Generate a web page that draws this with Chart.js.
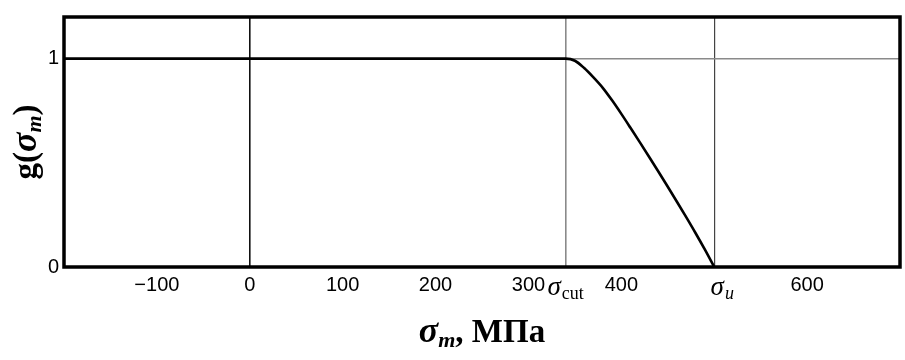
<!DOCTYPE html>
<html>
<head>
<meta charset="utf-8">
<script src="https://cdn.jsdelivr.net/npm/chart.js@4/dist/chart.umd.min.js"></script>
<style>
  html, body { margin: 0; padding: 0; background: #fff; }
  canvas { display: block; }
</style>
</head>
<body>
<canvas id="chart" width="905" height="360"></canvas>
<script>
// Stress axis (MPa) and the reduction factor g(σm)
const SIGMA = [-200, 340, 350, 360, 370, 380, 390, 400, 410, 420, 430, 440, 450, 460, 470, 480, 490, 500];
const G = [1, 1, 0.99, 0.955, 0.91, 0.86, 0.8, 0.735, 0.667, 0.598, 0.528, 0.457, 0.385, 0.312, 0.238, 0.162, 0.083, 0];

const X_TICKS = [-100, 0, 100, 200, 300, 400, 600];
const Y_TICKS = [0, 1];
const SIGMA_CUT = 340;
const SIGMA_U = 500;

const SERIF = '"Liberation Serif", "Times New Roman", serif';
const SANS = '"Liberation Sans", Arial, sans-serif';

// draws a list of text pieces side by side, centred on x
function drawRuns(ctx, runs, x, y) {
  let total = 0;
  runs.forEach(r => {
    ctx.font = r.font;
    r.w = ctx.measureText(r.text).width + (r.gap || 0);
    total += r.w;
  });
  let cx = x - total / 2;
  ctx.textAlign = "left";
  ctx.textBaseline = "alphabetic";
  runs.forEach(r => {
    ctx.font = r.font;
    ctx.fillText(r.text, cx, y + (r.dy || 0));
    cx += r.w;
  });
}

const annotations = {
  id: "annotations",
  afterDraw(chart) {
    const { ctx, chartArea, scales } = chart;
    const xs = scales.x;
    ctx.save();
    ctx.fillStyle = "#000";

    // frame
    ctx.strokeStyle = "#000";
    ctx.lineWidth = 3.5;
    ctx.strokeRect(chartArea.left, chartArea.top,
      chartArea.right - chartArea.left, chartArea.bottom - chartArea.top);

    // symbolic tick labels
    const base = chartArea.bottom + 28;
    drawRuns(ctx, [
      { text: "σ", font: "italic 27px " + SERIF, gap: 1 },
      { text: "cut", font: "18px " + SERIF, dy: 4 },
    ], xs.getPixelForValue(SIGMA_CUT), base);
    drawRuns(ctx, [
      { text: "σ", font: "italic 27px " + SERIF, gap: 1 },
      { text: "u", font: "italic 18px " + SERIF, dy: 4 },
    ], xs.getPixelForValue(SIGMA_U) + 8, base);

    // x axis title
    const midX = (chartArea.left + chartArea.right) / 2;
    drawRuns(ctx, [
      { text: "σ", font: "bold italic 36px " + SERIF },
      { text: "m", font: "bold italic 22px " + SERIF, dy: 5 },
      { text: ", МПа", font: "bold 33px " + SERIF },
    ], midX, 342);

    // y axis title
    ctx.translate(36, (chartArea.top + chartArea.bottom) / 2);
    ctx.rotate(-Math.PI / 2);
    drawRuns(ctx, [
      { text: "g(", font: "bold 33px " + SERIF },
      { text: "σ", font: "bold italic 36px " + SERIF },
      { text: "m", font: "bold italic 22px " + SERIF, dy: 5 },
      { text: ")", font: "bold 33px " + SERIF },
    ], 0, 0);
    ctx.restore();
  },
};

function xGridColor(ctx) {
  const v = ctx.tick && ctx.tick.value;
  if (v === 0) return "#111";
  if (v === SIGMA_CUT) return "#8a8a8a";
  if (v === SIGMA_U) return "#444";
  return "rgba(0,0,0,0)";
}

new Chart(document.getElementById("chart"), {
  type: "line",
  data: {
    datasets: [{
      data: SIGMA.map((s, i) => ({ x: s, y: G[i] })),
      borderColor: "#000",
      borderWidth: 2.6,
      pointRadius: 0,
      fill: false,
      cubicInterpolationMode: "monotone",
    }],
  },
  options: {
    responsive: false,
    animation: false,
    devicePixelRatio: 1,
    layout: { padding: { top: 17, right: 5, left: 0, bottom: 0 } },
    plugins: { legend: { display: false }, tooltip: { enabled: false } },
    scales: {
      x: {
        type: "linear",
        min: -200,
        max: 700,
        afterBuildTicks(scale) {
          scale.ticks = [...X_TICKS, SIGMA_CUT, SIGMA_U]
            .sort((a, b) => a - b)
            .map(v => ({ value: v }));
        },
        afterFit(scale) { scale.height = 93; },
        border: { display: false },
        grid: {
          drawTicks: false,
          color: xGridColor,
          lineWidth: ctx => (ctx.tick && ctx.tick.value === SIGMA_U ? 1.2 : 1.6),
        },
        ticks: {
          autoSkip: false,
          maxRotation: 0,
          padding: 6,
          color: "#000",
          font: { family: SANS, size: 20 },
          callback: v => (v === SIGMA_CUT || v === SIGMA_U ? "" : String(v).replace("-", "\u2212")),
        },
      },
      y: {
        min: 0,
        max: 1.2,
        afterBuildTicks(scale) {
          scale.ticks = Y_TICKS.map(v => ({ value: v }));
        },
        afterFit(scale) { scale.width = 64; },
        border: { display: false },
        grid: {
          drawTicks: false,
          color: ctx => (ctx.tick && ctx.tick.value === 1 ? "#8a8a8a" : "rgba(0,0,0,0)"),
          lineWidth: 1.6,
        },
        ticks: {
          padding: 5,
          color: "#000",
          font: { family: SANS, size: 20 },
          callback: v => String(v),
        },
      },
    },
  },
  plugins: [annotations],
});
</script>
</body>
</html>
